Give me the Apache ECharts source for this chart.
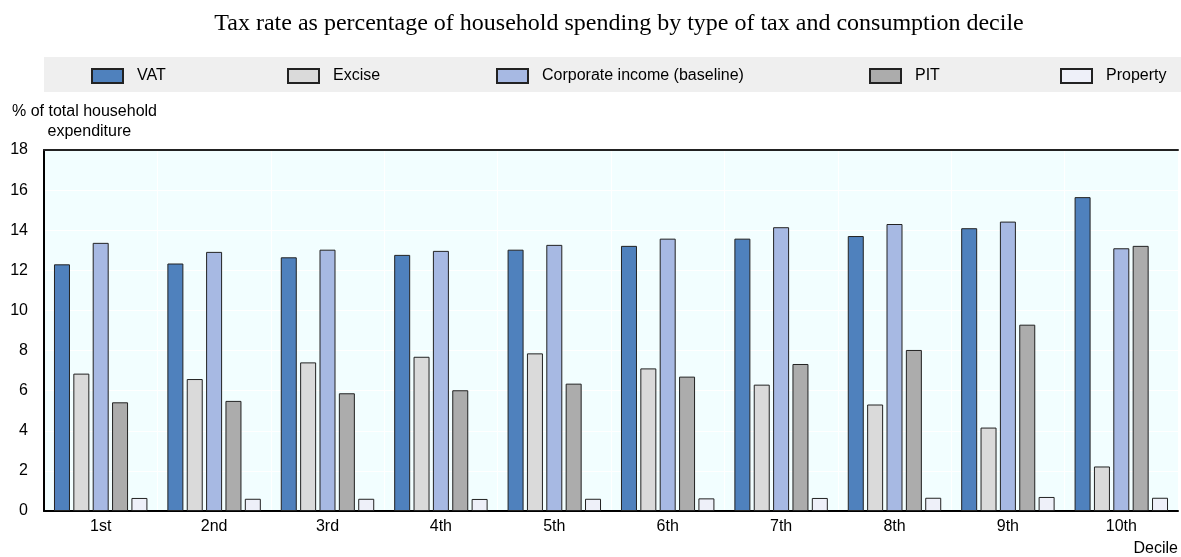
<!DOCTYPE html>
<html lang="en">
<head>
    <meta charset="UTF-8">
    <title>Tax rate by consumption decile</title>
    <script src="https://cdn.jsdelivr.net/npm/echarts@6/dist/echarts.min.js"></script>
    <style>
        html, body { margin: 0; padding: 0; background: #fff; }
        #main { width: 1181px; height: 557px; }
    </style>
</head>
<body>

<div id="main"></div>

<script>
    // deciles on the x axis
    const deciles = ['1st', '2nd', '3rd', '4th', '5th', '6th', '7th', '8th', '9th', '10th'];

    // % of total household expenditure
    const vat       = [12.3, 12.34, 12.65, 12.77, 13.03, 13.22, 13.58, 13.71, 14.1, 15.65];
    const excise    = [6.85, 6.58, 7.41, 7.69, 7.86, 7.11, 6.3, 5.31, 4.16, 2.22];
    const corporate = [13.37, 12.92, 13.03, 12.97, 13.27, 13.58, 14.15, 14.31, 14.43, 13.1];
    const pit       = [5.42, 5.49, 5.87, 6.02, 6.35, 6.7, 7.33, 8.03, 9.29, 13.22];
    const property  = [0.65, 0.61, 0.61, 0.6, 0.61, 0.63, 0.65, 0.66, 0.7, 0.66];

    const seriesNames = ['VAT', 'Excise', 'Corporate income (baseline)', 'PIT', 'Property'];
    const yTicks = [0, 2, 4, 6, 8, 10, 12, 14, 16, 18];

    const chart = echarts.init(document.getElementById('main'));
    const font = 'Liberation Sans, Arial, sans-serif';

    // 每个系列的公共设置
    function bar(name, data, color) {
        return {
            name: name,
            type: 'bar',
            data: data,
            barWidth: 16,
            barGap: '21%',
            itemStyle: { color: color, borderColor: '#222', borderWidth: 1 }
        };
    }

    // 图例位置逐个放，和原图对齐
    const legendLeft = [91, 287, 496, 869, 1060];
    const legends = seriesNames.map((name, i) => ({
        left: legendLeft[i],
        top: 68,
        padding: 0,
        itemWidth: 31,
        itemHeight: 14,
        icon: 'rect',
        textStyle: { fontFamily: font, fontSize: 16, color: '#000', padding: [0, 0, 0, 9] },
        data: [name]
    }));

    const option = {
        animation: false,
        title: {
            text: 'Tax rate as percentage of household spending by type of tax and consumption decile',
            left: 614,
            top: 7,
            textAlign: 'center',
            textStyle: { fontFamily: 'Liberation Serif, Times New Roman, serif', fontSize: 24, fontWeight: 'normal', color: '#000' }
        },
        graphic: [
            { type: 'rect', shape: { x: 44, y: 57, width: 1137, height: 35 }, style: { fill: '#efefef' }, z: -1 }
        ],
        legend: legends,
        grid: { left: 44, right: 0, top: 150, bottom: 45, backgroundColor: '#f2feff', show: true, borderWidth: 0 },
        xAxis: [
            {
                type: 'category',
                data: deciles,
                name: 'Decile',
                nameLocation: 'end',
                nameGap: 0,
                nameTextStyle: { fontFamily: font, fontSize: 16, color: '#000', align: 'right', verticalAlign: 'top', padding: [30, 0, 0, 0] },
                axisLine: { lineStyle: { color: '#000', width: 2 } },
                axisTick: { inside: true, length: 6, lineStyle: { color: '#000', width: 2 } },
                axisLabel: { fontFamily: font, fontSize: 16, color: '#000', margin: 8 },
                splitLine: { show: true, lineStyle: { color: '#fff', width: 1 } }
            },
            {
                // 顶部边框线
                type: 'category',
                data: deciles,
                position: 'top',
                axisLine: { lineStyle: { color: '#222', width: 2 } },
                axisTick: { show: false },
                axisLabel: { show: false }
            }
        ],
        yAxis: {
            type: 'value',
            min: 0,
            max: 18,
            interval: 2,
            name: '% of total household\n        expenditure',
            nameLocation: 'end',
            nameGap: 8,
            nameTextStyle: { fontFamily: font, fontSize: 16, color: '#000', align: 'left', padding: [0, 0, 0, -32], lineHeight: 20 },
            axisLine: { show: true, lineStyle: { color: '#000', width: 2 } },
            axisTick: { show: false },
            axisLabel: { fontFamily: font, fontSize: 16, color: '#000', margin: 16, formatter: v => yTicks.includes(v) ? String(v) : '' },
            splitLine: { show: true, lineStyle: { color: '#fff', width: 1 } }
        },
        series: [
            bar(seriesNames[0], vat, '#4f81bd'),
            bar(seriesNames[1], excise, '#dadada'),
            bar(seriesNames[2], corporate, '#a7b9e3'),
            bar(seriesNames[3], pit, '#acacac'),
            bar(seriesNames[4], property, '#eef0f9')
        ]
    };

    chart.setOption(option);
</script>

</body>
</html>
